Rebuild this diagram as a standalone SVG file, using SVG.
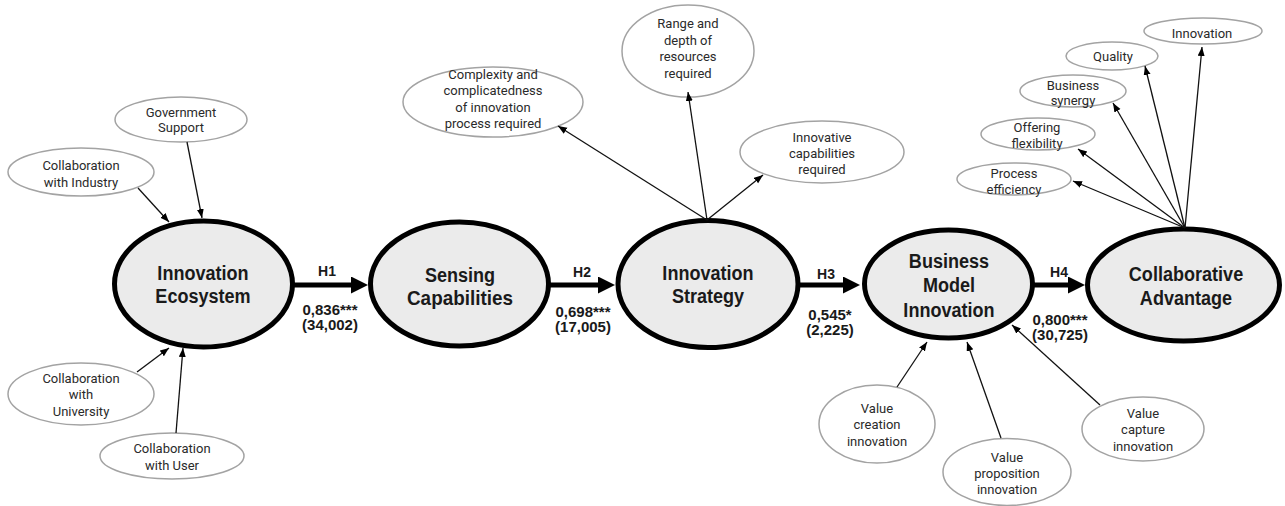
<svg xmlns="http://www.w3.org/2000/svg" width="1285" height="506" viewBox="0 0 1285 506">
  <defs>
    <style>
      .latent { fill: #ebebeb; stroke: #000; stroke-width: 5; }
      .indicator { fill: #fff; stroke: #a3a3a3; stroke-width: 1.5; }
      .big { font-family: "Liberation Sans", Arial, sans-serif; font-weight: bold; font-size: 21px; fill: #1a1a1a; text-anchor: middle; }
      .small { font-family: Roboto, "Liberation Sans", Arial, sans-serif; font-size: 13px; fill: #2a2a2a; text-anchor: middle; }
      .hyp { font-family: "Liberation Sans", Arial, sans-serif; font-weight: bold; font-size: 14px; fill: #1a1a1a; text-anchor: middle; }
      .coef { font-family: "Liberation Sans", Arial, sans-serif; font-weight: bold; font-size: 15px; fill: #1a1a1a; text-anchor: middle; }
      .path { stroke: #000; stroke-width: 5; fill: none; marker-end: url(#bigHead); }
      .load { stroke: #111; stroke-width: 1.3; fill: none; marker-end: url(#smallHead); }
    </style>
    <marker id="bigHead" markerUnits="userSpaceOnUse" markerWidth="18" markerHeight="18" refX="7" refY="8.5" orient="auto">
      <path d="M0,0 L17,8.5 L0,17 Z" fill="#000"/>
    </marker>
    <marker id="smallHead" markerUnits="userSpaceOnUse" markerWidth="10" markerHeight="8" refX="9" refY="3.5" orient="auto">
      <path d="M0,0 L9,3.5 L0,7 Z" fill="#000"/>
    </marker>
  </defs>

  <rect x="0" y="0" width="1285" height="506" fill="#fff"/>

  <!-- latent constructs -->
  <g id="innovation-ecosystem">
    <ellipse class="latent" cx="203.5" cy="284" rx="89" ry="63"/>
    <text class="big" transform="translate(203 0) scale(0.86 1)" x="0" y="280">Innovation</text>
    <text class="big" transform="translate(203 0) scale(0.86 1)" x="0" y="303">Ecosystem</text>
  </g>
  <g id="sensing-capabilities">
    <ellipse class="latent" cx="459.5" cy="284" rx="89" ry="62"/>
    <text class="big" transform="translate(460 0) scale(0.86 1)" x="0" y="282">Sensing</text>
    <text class="big" transform="translate(460 0) scale(0.9 1)" x="0" y="305">Capabilities</text>
  </g>
  <g id="innovation-strategy">
    <ellipse class="latent" cx="708" cy="284" rx="90" ry="63.5"/>
    <text class="big" transform="translate(708 0) scale(0.86 1)" x="0" y="280">Innovation</text>
    <text class="big" transform="translate(708 0) scale(0.86 1)" x="0" y="303">Strategy</text>
  </g>
  <g id="business-model-innovation">
    <ellipse class="latent" cx="948.5" cy="284" rx="84" ry="54"/>
    <text class="big" transform="translate(949 0) scale(0.86 1)" x="0" y="268">Business</text>
    <text class="big" transform="translate(949 0) scale(0.86 1)" x="0" y="292">Model</text>
    <text class="big" transform="translate(949 0) scale(0.86 1)" x="0" y="317">Innovation</text>
  </g>
  <g id="collaborative-advantage">
    <ellipse class="latent" cx="1183.5" cy="285" rx="96" ry="56"/>
    <text class="big" transform="translate(1186 0) scale(0.86 1)" x="0" y="281">Collaborative</text>
    <text class="big" transform="translate(1186 0) scale(0.86 1)" x="0" y="305">Advantage</text>
  </g>

  <!-- indicators of the innovation ecosystem -->
  <g id="government-support">
    <ellipse class="indicator" cx="181" cy="119.5" rx="66" ry="22.5"/>
    <text class="small" x="181" y="116.5">Government</text>
    <text class="small" x="181" y="131.5">Support</text>
  </g>
  <g id="collab-industry">
    <ellipse class="indicator" cx="81" cy="172" rx="73" ry="24"/>
    <text class="small" x="81" y="169.5">Collaboration</text>
    <text class="small" x="81" y="186.5">with Industry</text>
  </g>
  <g id="collab-university">
    <ellipse class="indicator" cx="81" cy="394" rx="73" ry="31"/>
    <text class="small" x="81" y="382.5">Collaboration</text>
    <text class="small" x="81" y="398.5">with</text>
    <text class="small" x="81" y="415.5">University</text>
  </g>
  <g id="collab-user">
    <ellipse class="indicator" cx="172" cy="456" rx="72" ry="23"/>
    <text class="small" x="172" y="452.5">Collaboration</text>
    <text class="small" x="172" y="469.5">with User</text>
  </g>

  <!-- indicators of the innovation strategy -->
  <g id="complexity">
    <ellipse class="indicator" cx="493" cy="102" rx="90" ry="35"/>
    <text class="small" x="493" y="78.5">Complexity and</text>
    <text class="small" x="493" y="94.5">complicatedness</text>
    <text class="small" x="493" y="111.5">of innovation</text>
    <text class="small" x="493" y="127.5">process required</text>
  </g>
  <g id="range-depth">
    <ellipse class="indicator" cx="688" cy="51" rx="66" ry="46"/>
    <text class="small" x="688" y="27.5">Range and</text>
    <text class="small" x="688" y="44.5">depth of</text>
    <text class="small" x="688" y="60.5">resources</text>
    <text class="small" x="688" y="77.5">required</text>
  </g>
  <g id="innovative-capabilities">
    <ellipse class="indicator" cx="822" cy="152" rx="82" ry="31"/>
    <text class="small" x="822" y="141.5">Innovative</text>
    <text class="small" x="822" y="157.5">capabilities</text>
    <text class="small" x="822" y="173.5">required</text>
  </g>

  <!-- indicators of business model innovation -->
  <g id="value-creation">
    <ellipse class="indicator" cx="877" cy="424" rx="58" ry="39"/>
    <text class="small" x="877" y="412.5">Value</text>
    <text class="small" x="877" y="428.5">creation</text>
    <text class="small" x="877" y="445.5">innovation</text>
  </g>
  <g id="value-proposition">
    <ellipse class="indicator" cx="1007" cy="472" rx="64" ry="33.5"/>
    <text class="small" x="1007" y="461.5">Value</text>
    <text class="small" x="1007" y="477.5">proposition</text>
    <text class="small" x="1007" y="493.5">innovation</text>
  </g>
  <g id="value-capture">
    <ellipse class="indicator" cx="1143" cy="429" rx="61" ry="32"/>
    <text class="small" x="1143" y="417.5">Value</text>
    <text class="small" x="1143" y="433.5">capture</text>
    <text class="small" x="1143" y="450.5">innovation</text>
  </g>

  <!-- indicators of collaborative advantage -->
  <g id="ca-innovation">
    <ellipse class="indicator" cx="1203" cy="31" rx="59" ry="13"/>
    <text class="small" x="1202" y="37.5">Innovation</text>
  </g>
  <g id="ca-quality">
    <ellipse class="indicator" cx="1112" cy="56" rx="46" ry="14"/>
    <text class="small" x="1113" y="60.5">Quality</text>
  </g>
  <g id="ca-synergy">
    <ellipse class="indicator" cx="1073" cy="91" rx="53" ry="16"/>
    <text class="small" x="1073" y="89.5">Business</text>
    <text class="small" x="1073" y="104.5">synergy</text>
  </g>
  <g id="ca-flexibility">
    <ellipse class="indicator" cx="1038" cy="134" rx="57" ry="16"/>
    <text class="small" x="1037" y="131.5">Offering</text>
    <text class="small" x="1037" y="147.5">flexibility</text>
  </g>
  <g id="ca-efficiency">
    <ellipse class="indicator" cx="1014" cy="179" rx="57" ry="16"/>
    <text class="small" x="1014" y="177.5">Process</text>
    <text class="small" x="1014" y="193.5">efficiency</text>
  </g>

  <!-- connectors -->
  <g id="connectors">
    <!-- structural paths -->
    <line class="path" x1="293" y1="285" x2="358" y2="285"/>
    <line class="path" x1="549" y1="285" x2="605" y2="285"/>
    <line class="path" x1="798" y1="285" x2="850" y2="285"/>
    <line class="path" x1="1033" y1="285" x2="1075" y2="285"/>

    <!-- formative indicators of the ecosystem -->
    <line class="load" x1="187" y1="142" x2="202" y2="218"/>
    <line class="load" x1="138" y1="188" x2="169" y2="222"/>
    <line class="load" x1="137" y1="372" x2="169" y2="348"/>
    <line class="load" x1="176" y1="433" x2="183" y2="348"/>

    <!-- reflective indicators of the strategy -->
    <line class="load" x1="707" y1="220" x2="558" y2="126"/>
    <line class="load" x1="707" y1="220" x2="688" y2="92"/>
    <line class="load" x1="707" y1="220" x2="763" y2="175"/>

    <!-- formative indicators of the business model -->
    <line class="load" x1="897" y1="387" x2="927" y2="342"/>
    <line class="load" x1="1001" y1="438" x2="967" y2="342"/>
    <line class="load" x1="1100" y1="405" x2="1012" y2="325"/>

    <!-- reflective indicators of the advantage -->
    <line class="load" x1="1185" y1="228" x2="1202" y2="47"/>
    <line class="load" x1="1185" y1="228" x2="1145" y2="66"/>
    <line class="load" x1="1185" y1="228" x2="1113" y2="103"/>
    <line class="load" x1="1185" y1="228" x2="1078" y2="149"/>
    <line class="load" x1="1185" y1="228" x2="1073" y2="181"/>
  </g>

  <!-- path labels -->
  <g id="path-labels">
    <text class="hyp" x="327" y="276">H1</text>
    <text class="coef" x="330" y="315">0,836***</text>
    <text class="coef" x="330" y="330">(34,002)</text>

    <text class="hyp" x="582" y="277">H2</text>
    <text class="coef" x="583" y="317">0,698***</text>
    <text class="coef" x="583" y="332">(17,005)</text>

    <text class="hyp" x="826" y="279">H3</text>
    <text class="coef" x="830" y="320">0,545*</text>
    <text class="coef" x="830" y="335">(2,225)</text>

    <text class="hyp" x="1059" y="277">H4</text>
    <text class="coef" x="1060" y="325">0,800***</text>
    <text class="coef" x="1060" y="340">(30,725)</text>
  </g>
</svg>
